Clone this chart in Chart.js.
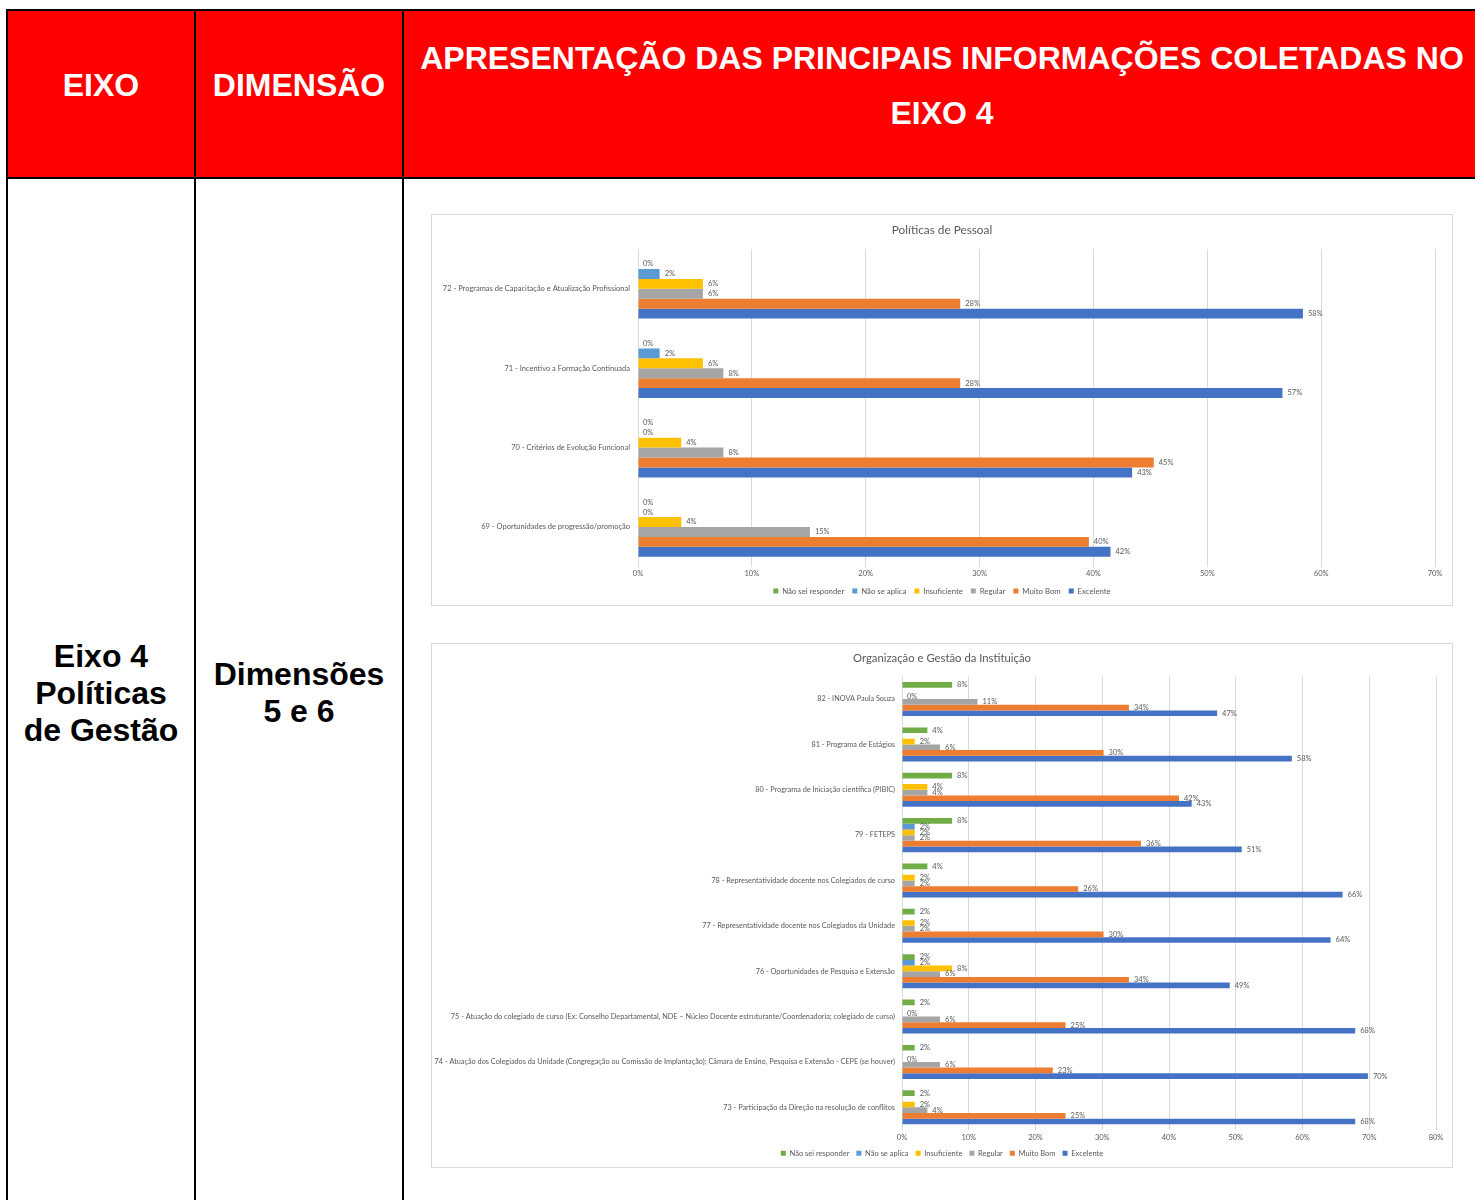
<!DOCTYPE html>
<html lang="pt-BR">
<head>
<meta charset="utf-8">
<title>Eixo 4 - Políticas de Gestão</title>
<script src="https://cdn.jsdelivr.net/npm/chart.js@4.4.1/dist/chart.umd.min.js"></script>
<style>
    html, body { margin: 0; padding: 0; background: #fff; width: 1475px; height: 1200px; overflow: hidden; }
    .sheet { position: relative; width: 1475px; height: 1200px; font-family: "Liberation Sans", Arial, sans-serif; }
    .head { position: absolute; left: 6px; top: 9px; width: 1540px; height: 170px; background: #ff0000; border: 2px solid #000; box-sizing: border-box; }
    .vline { position: absolute; top: 9px; width: 2px; height: 1300px; background: #000; }
    .htext { position: absolute; color: #fff; font-weight: bold; font-size: 32px; line-height: 36px; text-align: center; white-space: nowrap; }
    .htext.wide { line-height: 55px; }
    .btext { position: absolute; color: #000; font-weight: bold; font-size: 32px; line-height: 37px; text-align: center; white-space: nowrap; }
    .chartbox { position: absolute; left: 431px; width: 1022px; border: 1px solid #d9d9d9; box-sizing: border-box; background: #fff; }
    .chartbox .wrap { position: relative; width: 1020px; }
</style>
</head>
<body>
<div class="sheet">
    <div class="head"></div>
    <div class="vline" style="left:6px"></div>
    <div class="vline" style="left:194px"></div>
    <div class="vline" style="left:402px"></div>

    <div class="htext" style="left:8px; width:186px; top:67px">EIXO</div>
    <div class="htext" style="left:196px; width:206px; top:67px">DIMENSÃO</div>
    <div class="htext wide" style="left:404px; width:1076px; top:31px">APRESENTAÇÃO DAS PRINCIPAIS INFORMAÇÕES COLETADAS NO<br>EIXO 4</div>

    <div class="btext" style="left:8px; width:186px; top:638px">Eixo 4<br>Políticas<br>de Gestão</div>
    <div class="btext" style="left:196px; width:206px; top:656px">Dimensões<br>5 e 6</div>

    <div class="chartbox" style="top:214px; height:392px">
        <div class="wrap" style="height:390px"><canvas id="pessoalChart"></canvas></div>
    </div>
    <div class="chartbox" style="top:643px; height:525px">
        <div class="wrap" style="height:523px"><canvas id="gestaoChart"></canvas></div>
    </div>
</div>

<script>
// series (legend order, top bar of each group first)
const seriesNames = ['Não sei responder', 'Não se aplica', 'Insuficiente', 'Regular', 'Muito Bom', 'Excelente'];
const seriesColors = ['#70AD47', '#5B9BD5', '#FFC000', '#A5A5A5', '#ED7D31', '#4472C4'];

// Políticas de Pessoal (% of answers)
const pessoalCategories = [
    '72 - Programas de Capacitação e Atualização Profissional',
    '71 - Incentivo a Formação Continuada',
    '70 - Critérios de Evolução Funcional',
    '69 - Oportunidades de progressão/promoção'
];
const pessoalNaoSei = [0, 0, 0, 0];
const pessoalNaoSeAplica = [1.9, 1.9, 0, 0];
const pessoalInsuficiente = [5.7, 5.7, 3.8, 3.8];
const pessoalRegular = [5.7, 7.5, 7.5, 15.1];
const pessoalMuitoBom = [28.3, 28.3, 45.3, 39.6];
const pessoalExcelente = [58.4, 56.6, 43.4, 41.5];
const pessoalTicks = { max: 70, step: 10 };

// Organização e Gestão da Instituição (% of answers)
const gestaoCategories = [
    '82 - INOVA Paula Souza',
    '81 - Programa de Estágios',
    '80 - Programa de Iniciação científica (PIBIC)',
    '79 - FETEPS',
    '78 - Representatividade docente nos Colegiados de curso',
    '77 - Representatividade docente nos Colegiados da Unidade',
    '76 - Oportunidades de Pesquisa e Extensão',
    '75 - Atuação do colegiado de curso (Ex: Conselho Departamental, NDE – Núcleo Docente estruturante/Coordenadoria; colegiado de curso)',
    '74 - Atuação dos Colegiados da Unidade (Congregação ou Comissão de Implantação); Câmara de Ensino, Pesquisa e Extensão - CEPE (se houver)',
    '73 - Participação da Direção na resolução de conflitos'
];
const gestaoNaoSei = [7.5, 3.8, 7.5, 7.5, 3.8, 1.9, 1.9, 1.9, 1.9, 1.9];
const gestaoNaoSeAplica = [0, 0, 0, 1.9, 0, 0, 1.9, 0, 0, 0];
const gestaoInsuficiente = [0, 1.9, 3.8, 1.9, 1.9, 1.9, 7.5, 0, 0, 1.9];
const gestaoRegular = [11.3, 5.7, 3.8, 1.9, 1.9, 1.9, 5.7, 5.7, 5.7, 3.8];
const gestaoMuitoBom = [34.0, 30.2, 41.5, 35.8, 26.4, 30.2, 34.0, 24.5, 22.6, 24.5];
const gestaoExcelente = [47.2, 58.4, 43.4, 50.9, 66.0, 64.2, 49.1, 67.9, 69.8, 67.9];
const gestaoTicks = { max: 80, step: 10 };

const TEXT_GRAY = '#595959';
const FONT = 'Lato, "Open Sans", sans-serif';

// draws "NN%" just past the end of every bar, like Excel's outside-end labels
const barValueLabels = {
    id: 'barValueLabels',
    afterDatasetsDraw(chart, args, opts) {
        const ctx = chart.ctx;
        ctx.save();
        ctx.font = `${opts.size}px ${FONT}`;
        ctx.fillStyle = TEXT_GRAY;
        ctx.textAlign = 'left';
        ctx.textBaseline = 'middle';
        chart.data.datasets.forEach((ds, i) => {
            const meta = chart.getDatasetMeta(i);
            meta.data.forEach((bar, j) => {
                const v = ds.data[j];
                if (v === 0 && opts.hideZero.includes(i)) return;
                ctx.fillText(Math.round(v) + '%', bar.x + opts.offset, bar.y);
            });
        });
        ctx.restore();
    }
};

function createBarChart(canvasId, labels, seriesData, cfg) {
    const ctx = document.getElementById(canvasId).getContext('2d');

    return new Chart(ctx, {
        type: 'bar',
        data: {
            labels: labels,
            datasets: seriesData.map((values, i) => ({
                label: seriesNames[i],
                data: values,
                backgroundColor: seriesColors[i],
                borderWidth: 0,
                barPercentage: 1,
                categoryPercentage: 0.75
            }))
        },
        options: {
            indexAxis: 'y',
            responsive: true,
            maintainAspectRatio: false,
            animation: false,
            layout: { padding: 0 },
            scales: {
                x: {
                    min: 0,
                    max: cfg.ticks.max,
                    ticks: {
                        stepSize: cfg.ticks.step,
                        padding: cfg.tickPad,
                        color: TEXT_GRAY,
                        font: { family: FONT, size: 7.5 },
                        callback: v => v + '%'
                    },
                    grid: { color: '#D9D9D9', lineWidth: 1, drawTicks: false },
                    border: { display: false },
                    afterFit: scale => { scale.height = cfg.xAxisHeight; }
                },
                y: {
                    ticks: {
                        padding: cfg.labelPad,
                        color: TEXT_GRAY,
                        font: { family: FONT, size: cfg.labelSize },
                        autoSkip: false
                    },
                    grid: { display: false, drawTicks: false },
                    border: { display: false },
                    afterFit: scale => { scale.width = cfg.plotLeft; }
                },
                // empty axis on the right, only to leave the blank margin Excel has there
                yGap: {
                    type: 'category',
                    position: 'right',
                    ticks: { display: false },
                    grid: { display: false, drawTicks: false },
                    border: { display: false },
                    afterFit: scale => { scale.width = cfg.rightGap; }
                }
            },
            plugins: {
                title: {
                    display: true,
                    text: cfg.title,
                    color: TEXT_GRAY,
                    font: { family: FONT, size: cfg.titleSize, weight: 'normal' },
                    padding: cfg.titlePad
                },
                legend: {
                    position: 'bottom',
                    labels: {
                        boxWidth: 5,
                        boxHeight: 5,
                        padding: cfg.legendPad,
                        color: TEXT_GRAY,
                        font: { family: FONT, size: cfg.legendSize }
                    }
                },
                tooltip: { enabled: false },
                barValueLabels: { size: 7.5, offset: 5, hideZero: cfg.hideZero }
            }
        },
        plugins: [barValueLabels]
    });
}

createBarChart('pessoalChart', pessoalCategories,
    [pessoalNaoSei, pessoalNaoSeAplica, pessoalInsuficiente, pessoalRegular, pessoalMuitoBom, pessoalExcelente],
    {
        title: 'Políticas de Pessoal',
        titleSize: 11.8,
        ticks: pessoalTicks,
        titlePad: { top: 8.5, bottom: 11.5 },
        plotLeft: 206,
        rightGap: 17,
        labelPad: 8,
        labelSize: 7.5,
        xAxisHeight: 12.5,
        tickPad: 2.5,
        legendPad: 8,
        legendSize: 7.8,
        hideZero: []
    });

createBarChart('gestaoChart', gestaoCategories,
    [gestaoNaoSei, gestaoNaoSeAplica, gestaoInsuficiente, gestaoRegular, gestaoMuitoBom, gestaoExcelente],
    {
        title: 'Organização e Gestão da Instituição',
        titleSize: 11.3,
        ticks: gestaoTicks,
        titlePad: { top: 7.5, bottom: 11.3 },
        plotLeft: 470,
        rightGap: 16,
        labelPad: 7,
        labelSize: 7.3,
        xAxisHeight: 12.5,
        tickPad: 3.5,
        legendPad: 7,
        legendSize: 7.5,
        hideZero: [1]
    });
</script>
</body>
</html>
